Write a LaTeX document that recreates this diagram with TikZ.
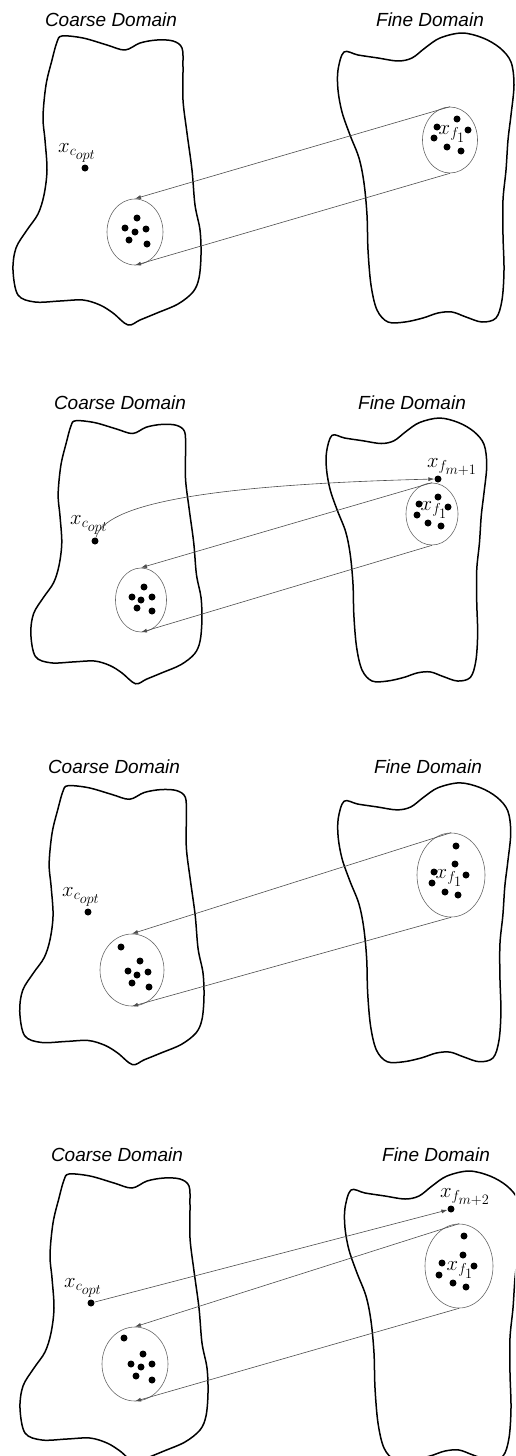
\documentclass[tikz,border=0pt]{standalone}
\usepackage{fontspec}
\setsansfont{Liberation Sans}
\usetikzlibrary{arrows.meta,shapes.geometric}

\tikzset{
	region/.style={line width=1.5pt, line join=round},
	cloud/.style={ellipse, draw=gray!80!black, line width=0.6pt, inner sep=0pt},
	link/.style={draw=gray!60!black, line width=0.6pt, -{Latex[length=6pt,width=4pt]}},
	dot/.style={circle, fill=black, inner sep=0pt, minimum size=7pt},
	title/.style={font=\fontsize{19}{22}\selectfont\sffamily\itshape},
	lbl/.style={font=\fontsize{20}{24}\selectfont, inner sep=1pt}
}

\newcommand{\coarseblob}[1]{%
	\draw[region,#1] plot[smooth cycle, tension=0.55] coordinates {(62,36) (83,38) (107,45) (125,50) (140,43) (157,40) (173,41) (182,48) (183,67) (183,100) (187,133) (192,170) (195,205) (200,230) (201,255) (199,278) (193,292) (178,304) (157,313) (140,320) (128,325) (113,313) (100,305) (83,300) (60,301) (35,302) (18,295) (13,270) (16,248) (27,230) (38,214) (44,195) (47,170) (45,140) (43,117) (46,85) (52,60) (57,42)};}
\newcommand{\fineblob}[1]{%
	\draw[region,#1] plot[smooth cycle, tension=0.55] coordinates {(344,52) (358,55) (378,58) (398,61) (412,58) (425,48) (440,38) (462,33) (483,38) (500,48) (511,62) (514,85) (511,115) (508,140) (506,170) (503,200) (503,235) (504,270) (502,300) (496,318) (482,322) (466,317) (452,312) (438,313) (423,318) (405,322) (388,322) (377,310) (371,285) (368,250) (367,215) (364,183) (359,158) (350,135) (342,112) (338,90) (338,70)};}
\newcommand{\xcopt}{$x_{c_{\scriptstyle opt}}$}
\newcommand{\xfone}{$x_{f_{\scriptstyle 1}}$}

\begin{document}
\begin{tikzpicture}[x=1pt,y=-1pt]
	\useasboundingbox (0,0) rectangle (515,1456);
	\clip (0,0) rectangle (515,1456);

	% first step
	\node[title] (coarse1) at (111,20) {Coarse Domain};
	\node[title] (fine1) at (430,20) {Fine Domain};
	\coarseblob{}
	\fineblob{}
	\node[dot] (copt1) at (85,168) {};
	\node[lbl] (lcopt1) at (77,153) {\xcopt};
	\node[cloud, minimum width=56pt, minimum height=66pt] (cc1) at (135,232) {};
	\foreach \p in {(137,218),(125,228),(135,232),(146,229),(129,240),(147,244)}
		\fill \p circle (3.5pt);
	\node[cloud, minimum width=55pt, minimum height=66pt] (fc1) at (450,140) {};
	\foreach \p in {(437,127),(457,119),(468,130),(434,138),(447,147),(461,151)}
		\fill \p circle (3.5pt);
	\node[lbl] (lf1) at (452,134) {\xfone};
	\draw[link] (fc1.north) -- (cc1.north);
	\draw[link] (fc1.south) -- (cc1.south);

	% second step
	\node[title] (coarse2) at (120,403) {Coarse Domain};
	\node[title] (fine2) at (412,403) {Fine Domain};
	\coarseblob{shift={(19,388)}, scale=0.91}
	\fineblob{shift={(19,388)}, scale=0.91}
	\node[dot] (copt2) at (95,541) {};
	\node[lbl] (lcopt2) at (89,525) {\xcopt};
	\node[cloud, minimum width=51pt, minimum height=64pt] (cc2) at (141,600) {};
	\foreach \p in {(144,587),(132,597),(141,600),(152,597),(137,608),(152,611)}
		\fill \p circle (3.5pt);
	\node[cloud, minimum width=52pt, minimum height=62pt] (fc2) at (432,514) {};
	\foreach \p in {(438,497),(419,504),(448,507),(417,515),(428,523),(441,526)}
		\fill \p circle (3.5pt);
	\node[lbl] (lf2) at (434,510) {\xfone};
	\node[dot] (fm1) at (438,479) {};
	\node[lbl] (lfm1) at (452,467) {$x_{f_{\scriptstyle m+1}}$};
	\draw[link] (copt2) .. controls (105,505) and (200,485) .. (fm1.west);
	\draw[link] (fc2.north) -- (cc2.north);
	\draw[link] (fc2.south) -- (cc2.south);

	% third step
	\node[title] (coarse3) at (114,767) {Coarse Domain};
	\node[title] (fine3) at (428,767) {Fine Domain};
	\coarseblob{shift={(7,751)}, xscale=0.98, yscale=0.965}
	\fineblob{shift={(7,751)}, xscale=0.98, yscale=0.965}
	\node[dot] (copt3) at (88,912) {};
	\node[lbl] (lcopt3) at (81,897) {\xcopt};
	\node[cloud, minimum width=64pt, minimum height=72pt] (cc3) at (132,970) {};
	\foreach \p in {(121,947),(140,961),(128,971),(137,975),(148,972),(132,983),(149,987)}
		\fill \p circle (3.5pt);
	\node[cloud, minimum width=68pt, minimum height=84pt] (fc3) at (451,875) {};
	\foreach \p in {(456,846),(455,864),(434,872),(466,875),(432,883),(445,892),(458,895)}
		\fill \p circle (3.5pt);
	\node[lbl] (lf3) at (449,878) {\xfone};
	\draw[link] (fc3.north) -- (cc3.north);
	\draw[link] (fc3.south) -- (cc3.south);

	% fourth step
	\node[title] (coarse4) at (117,1155) {Coarse Domain};
	\node[title] (fine4) at (436,1155) {Fine Domain};
	\coarseblob{shift={(7,1138)}}
	\fineblob{shift={(7,1138)}}
	\node[dot] (copt4) at (91,1303) {};
	\node[lbl] (lcopt4) at (83,1288) {\xcopt};
	\node[cloud, minimum width=66pt, minimum height=74pt] (cc4) at (135,1364) {};
	\foreach \p in {(124,1338),(143,1354),(131,1364),(141,1367),(152,1364),(136,1376),(152,1380)}
		\fill \p circle (3.5pt);
	\node[cloud, minimum width=68pt, minimum height=84pt] (fc4) at (459,1266) {};
	\foreach \p in {(464,1236),(463,1255),(442,1263),(474,1266),(439,1275),(453,1283),(466,1287)}
		\fill \p circle (3.5pt);
	\node[lbl] (lf4) at (460,1270) {\xfone};
	\node[dot] (fm2) at (451,1209) {};
	\node[lbl] (lfm2) at (465,1197) {$x_{f_{\scriptstyle m+2}}$};
	\draw[link] (copt4) -- (fm2);
	\draw[link] (fc4.north) -- (cc4.north);
	\draw[link] (fc4.south) -- (cc4.south);
\end{tikzpicture}
\end{document}
